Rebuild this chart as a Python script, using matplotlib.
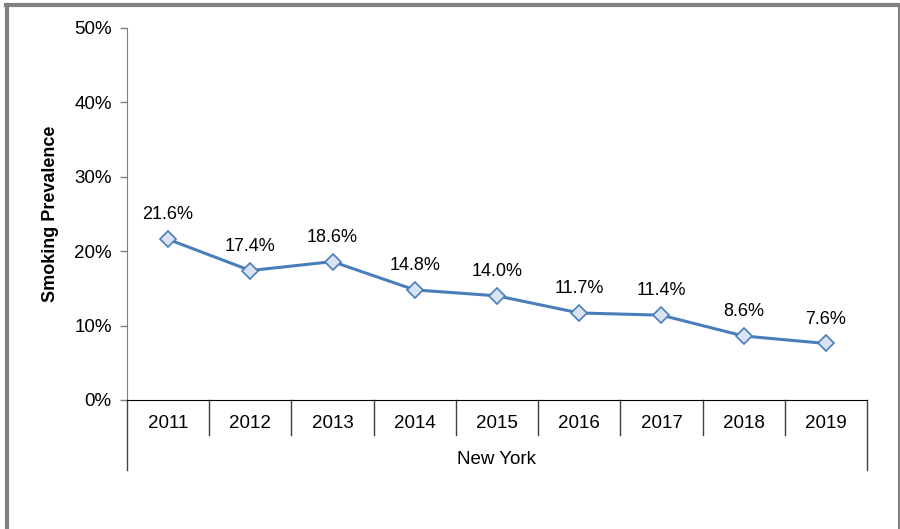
import matplotlib
matplotlib.use("Agg")
import matplotlib.pyplot as plt
from matplotlib.lines import Line2D
from matplotlib.ticker import FuncFormatter

plt.rcParams['font.family'] = ['Liberation Sans', 'DejaVu Sans']

years = ['2011', '2012', '2013', '2014', '2015', '2016', '2017', '2018', '2019']
values = [21.6, 17.4, 18.6, 14.8, 14.0, 11.7, 11.4, 8.6, 7.6]
group_label = 'New York'
y_ticks = [0, 10, 20, 30, 40, 50]

W, H = 900, 529
fig = plt.figure(figsize=(W / 100, H / 100), dpi=100)
ax = fig.add_axes([127 / W, 1 - 400 / H, (867 - 127) / W, (400 - 28) / H])

x = list(range(len(years)))
ax.plot(x, values, color='#4a7ebb', linewidth=2.2, marker='D', markersize=8.5,
        markerfacecolor='#dae3f3', markeredgecolor='#4a7ebb', markeredgewidth=1.2, zorder=3)
for xi, v in zip(x, values):
    ax.annotate(f'{v:.1f}%', (xi, v), xytext=(0, 17.5), textcoords='offset points',
                ha='center', va='center', fontsize=13)

ax.set_xlim(-0.5, len(years) - 0.5)
ax.set_ylim(0, 50)
ax.set_yticks(y_ticks)
ax.yaxis.set_major_formatter(FuncFormatter(lambda v, p: f'{v:.0f}%'))
ax.tick_params(axis='y', labelsize=13.5, length=5, width=1, color='#7f7f7f', pad=6)
ax.set_xticks([])
for s in ['top', 'right']:
    ax.spines[s].set_visible(False)
ax.spines['left'].set_color('#7f7f7f')
ax.spines['bottom'].set_color('black')
ax.set_ylabel('Smoking Prevalence', fontsize=13, fontweight='bold', labelpad=11)

axh = 400 - 28
trans = ax.get_xaxis_transform()
for i, yr in enumerate(years):
    ax.text(i, -23 / axh, yr, transform=trans, ha='center', va='center', fontsize=13.5)
for b in range(len(years) + 1):
    xb = b - 0.5
    y_end = -70 / axh if b in (0, len(years)) else -35 / axh
    ax.add_line(Line2D([xb, xb], [0, y_end], transform=trans, color='#404040',
                       linewidth=1, clip_on=False))
ax.text((len(years) - 1) / 2, -59 / axh, group_label, transform=trans,
        ha='center', va='center', fontsize=13.5)

# figure border
fig.add_artist(Line2D([7 / W, 7 / W], [0, 1 - 5 / H], transform=fig.transFigure,
                      color='#808080', linewidth=3))
fig.add_artist(Line2D([5.5 / W, 899 / W], [1 - 5 / H, 1 - 5 / H], transform=fig.transFigure,
                      color='#808080', linewidth=3))
fig.add_artist(Line2D([899 / W, 899 / W], [0, 1 - 5 / H], transform=fig.transFigure,
                      color='#808080', linewidth=1.5))

fig.savefig('out.png', dpi=100)
